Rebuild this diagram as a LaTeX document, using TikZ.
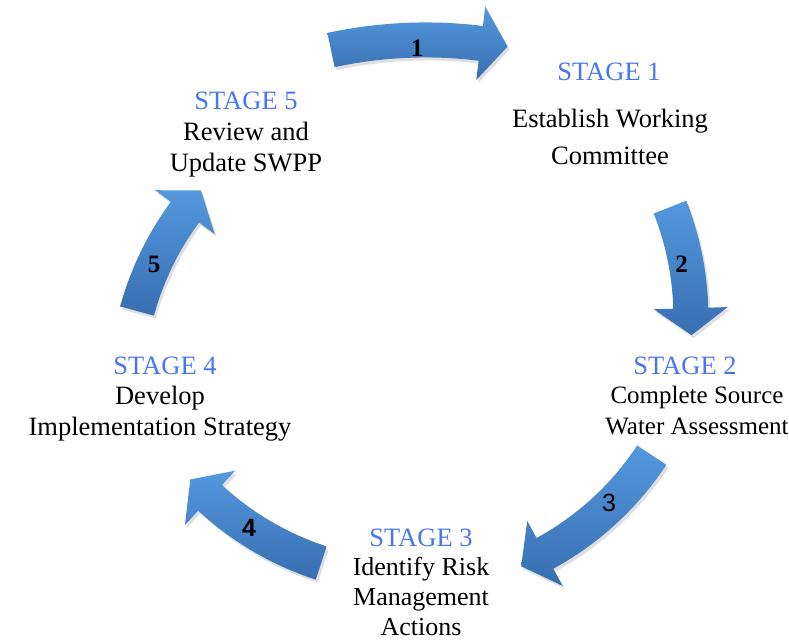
\documentclass[tikz,border=0pt]{standalone}
\usepackage{fontspec}
\setmainfont{Liberation Serif}
\newfontfamily\numsans{Liberation Sans}
\usetikzlibrary{calc,shadows}
\definecolor{stageblue}{RGB}{72,118,240}
\definecolor{arrowtop}{RGB}{84,152,222}
\definecolor{arrowbot}{RGB}{56,110,176}

\begin{document}
\begin{tikzpicture}[x=1pt,y=1pt,
	title/.style={inner sep=0pt,text=stageblue,font=\fontsize{26.5}{31}\selectfont},
	body/.style={inner sep=0pt,anchor=north,align=center,font=\fontsize{26.5}{31}\selectfont},
	num/.style={inner sep=0pt,font=\fontsize{25}{25}\selectfont\bfseries},
	cyc/.style={top color=arrowtop,bottom color=arrowbot,
		drop shadow={opacity=0.25,shadow xshift=2pt,shadow yshift=-3pt}}]
			\useasboundingbox (0,0) rectangle (789,644);
			\foreach \cx/\cy/\r/\s/\h in {425.7/154.05/450/102.15/82.97,390.9/326.9/300/21.5/1.7,
				401.3/354.0/300/-33.4/-61.4,413.9/366.3/300/-108.0/-132.8,426.4/253.8/300/164.7/143.6}
			{
				\begin{scope}[shift={(\cx,\cy)}]
					\path[cyc] (\s:{\r+17.5}) arc[start angle=\s,end angle=\h,radius=\r+17.5]
						-- (\h:{\r+37}) -- ($(\h:\r)+(\h-90:27)$) -- (\h:{\r-37}) -- (\h:{\r-17.5})
						arc[start angle=\h,end angle=\s,radius=\r-17.5] -- cycle;
				\end{scope}
			}
			\node[num] (n1) at (417,596) {1};
			\node[num] (n2) at (681.5,380) {2};
			\node[num,font=\fontsize{25}{25}\selectfont\numsans] (n3) at (609,141) {3};
			\node[num,font=\fontsize{25}{25}\selectfont\numsans\bfseries] (n4) at (249,116) {4};
			\node[num] (n5) at (154,380) {5};
			\node[title] (t1) at (609,572) {STAGE 1};
			\node[body] (b1) at (610,535) {Establish Working\\[6pt]Committee};
			\node[title] (t2) at (685,278) {STAGE 2};
			\node[body,font=\fontsize{25}{31}\selectfont] (b2) at (697,258) {Complete Source\\Water Assessment};
			\node[title] (t3) at (421,106) {STAGE 3};
			\node[body,font=\fontsize{26}{30}\selectfont] (b3) at (421,87) {Identify Risk\\Management\\Actions};
			\node[title] (t4) at (165,278) {STAGE 4};
			\node[body] (b4) at (160,258) {Develop\\Implementation Strategy};
			\node[title] (t5) at (246,543) {STAGE 5};
			\node[body] (b5) at (246,522) {Review and\\Update SWPP};
		\end{tikzpicture}
\end{document}
